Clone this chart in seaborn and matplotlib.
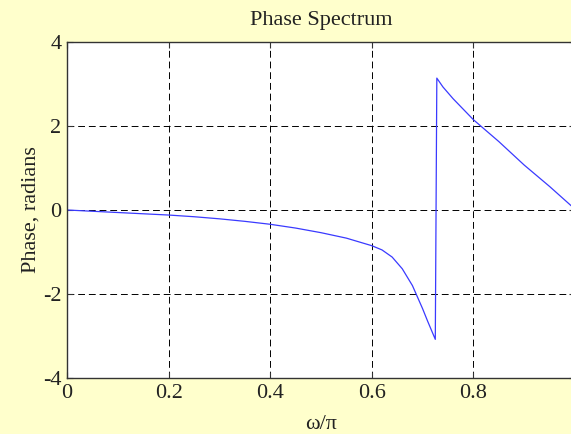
import matplotlib
matplotlib.use("Agg")
import matplotlib.pyplot as plt
import seaborn as sns
import pandas as pd

omega = [0.00, 0.05, 0.10, 0.15, 0.20, 0.25, 0.30, 0.35, 0.40, 0.45, 0.50, 0.55,
         0.60, 0.62, 0.64, 0.66, 0.68, 0.70, 0.71, 0.725, 0.728, 0.74, 0.76,
         0.78, 0.80, 0.85, 0.90, 0.95, 1.00]
phase = [0.00, -0.03, -0.06, -0.09, -0.12, -0.16, -0.21, -0.27, -0.34, -0.43,
         -0.54, -0.67, -0.85, -0.95, -1.12, -1.40, -1.80, -2.35, -2.65, -3.08,
         3.14, 2.93, 2.65, 2.40, 2.15, 1.63, 1.07, 0.56, 0.02]
xticks = [0, 0.2, 0.4, 0.6, 0.8]
xticklabels = ["0", "0.2", "0.4", "0.6", "0.8"]
yticks = [-4, -2, 0, 2, 4]
yticklabels = ["-4", "-2", "0", "2", "4"]

sns.set_theme(style="white")
plt.rcParams["font.family"] = ["Liberation Serif", "DejaVu Serif"]
plt.rcParams["axes.unicode_minus"] = False

df = pd.DataFrame({"omega": omega, "phase": phase})

fig = plt.figure(figsize=(5.71, 4.34), dpi=100, facecolor="#FFFFCC")
ax = fig.add_axes([67/571, 1 - 378/434, 508/571, 336/434])
ax.set_facecolor("white")

sns.lineplot(data=df, x="omega", y="phase", ax=ax, estimator=None,
             color="#3a3aff", linewidth=0.9)

ax.set_xlim(0, 1)
ax.set_ylim(-4, 4)
ax.set_xticks(xticks)
ax.set_xticklabels(xticklabels)
ax.set_yticks(yticks)
ax.set_yticklabels(yticklabels)

for v in xticks[1:]:
    ax.axvline(v, color="black", linestyle=(0, (7, 4)), linewidth=0.7, zorder=0.5)
for v in yticks[1:-1]:
    ax.axhline(v, color="black", linestyle=(0, (7, 4)), linewidth=0.7, zorder=0.5)

for s in ax.spines.values():
    s.set_color("#333333")
    s.set_linewidth(1.0)
    s.set_visible(True)

ax.tick_params(direction="in", length=4, width=0.8, colors="#333333",
               labelsize=16, labelcolor="#222222", top=True, right=True,
               bottom=True, left=True, pad=4)

ax.set_title("Phase Spectrum", fontsize=16, color="#222222", pad=12)
ax.set_xlabel("ω/π", fontsize=16, color="#222222", labelpad=9)
ax.set_ylabel("Phase, radians", fontsize=16, color="#222222", labelpad=2)

fig.savefig("out.png", dpi=100, facecolor=fig.get_facecolor())
